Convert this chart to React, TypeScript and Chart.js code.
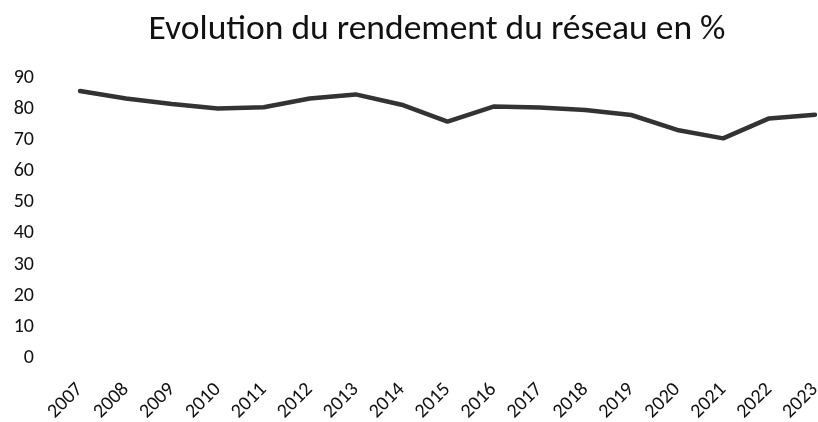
import React, { useEffect, useRef } from "react";
import { Chart, registerables } from "chart.js";

Chart.register(...registerables);

const years = ["2007", "2008", "2009", "2010", "2011", "2012", "2013", "2014", "2015", "2016", "2017", "2018", "2019", "2020", "2021", "2022", "2023"];
const rendement = [85.7, 83.3, 81.5, 80.1, 80.5, 83.3, 84.6, 81.3, 75.9, 80.7, 80.4, 79.6, 78.0, 73.2, 70.5, 76.9, 78.1];
const yMin = 0;
const yMax = 90;
const yStep = 10;
const title = "Evolution du rendement du réseau en %";

const FONT = "Carlito, 'Liberation Sans Narrow', 'Liberation Sans', sans-serif";

export default function App() {
  const ref = useRef<HTMLCanvasElement>(null);
  useEffect(() => {
    document.body.style.margin = "0";
    const chart = new Chart(ref.current!, {
      type: "line",
      data: {
        labels: years,
        datasets: [
          {
            data: rendement,
            borderColor: "#333333",
            borderWidth: 4.5,
            borderJoinStyle: "round",
            borderCapStyle: "round",
            pointRadius: 0,
            tension: 0,
            fill: false,
            yAxisID: "y",
          },
        ],
      },
      options: {
        responsive: false,
        animation: false,
        devicePixelRatio: 1,
        layout: { padding: 0 },
        plugins: {
          legend: { display: false },
          tooltip: { enabled: false },
          title: {
            display: true,
            text: title,
            color: "#111",
            font: { family: FONT, size: 35.5, weight: "normal" },
            padding: { top: 9, bottom: 26 },
          },
        },
        scales: {
          x: {
            offset: false,
            grid: { display: false, drawTicks: false },
            border: { display: false },
            ticks: {
              autoSkip: false,
              maxRotation: 45,
              minRotation: 45,
              padding: 20,
              color: "#111",
              font: { family: FONT, size: 20 },
            },
            afterFit: (s: any) => {
              s.height = 64;
            },
          },
          y: {
            min: yMin,
            max: yMax,
            grid: { display: false, drawTicks: false },
            border: { display: false },
            ticks: {
              stepSize: yStep,
              padding: 46,
              color: "#111",
              font: { family: FONT, size: 20 },
            },
            afterFit: (s: any) => {
              s.width = 80;
            },
          },
          yRight: {
            position: "right",
            min: yMin,
            max: yMax,
            grid: { display: false, drawTicks: false },
            border: { display: false },
            ticks: { display: false },
            afterFit: (s: any) => {
              s.width = 59;
            },
          },
        },
      },
    });
    return () => chart.destroy();
  }, []);
  return (
    <div style={{ width: 818, height: 422, overflow: "hidden", background: "#fff" }}>
      <canvas ref={ref} width={874} height={422} style={{ display: "block" }} />
    </div>
  );
}
